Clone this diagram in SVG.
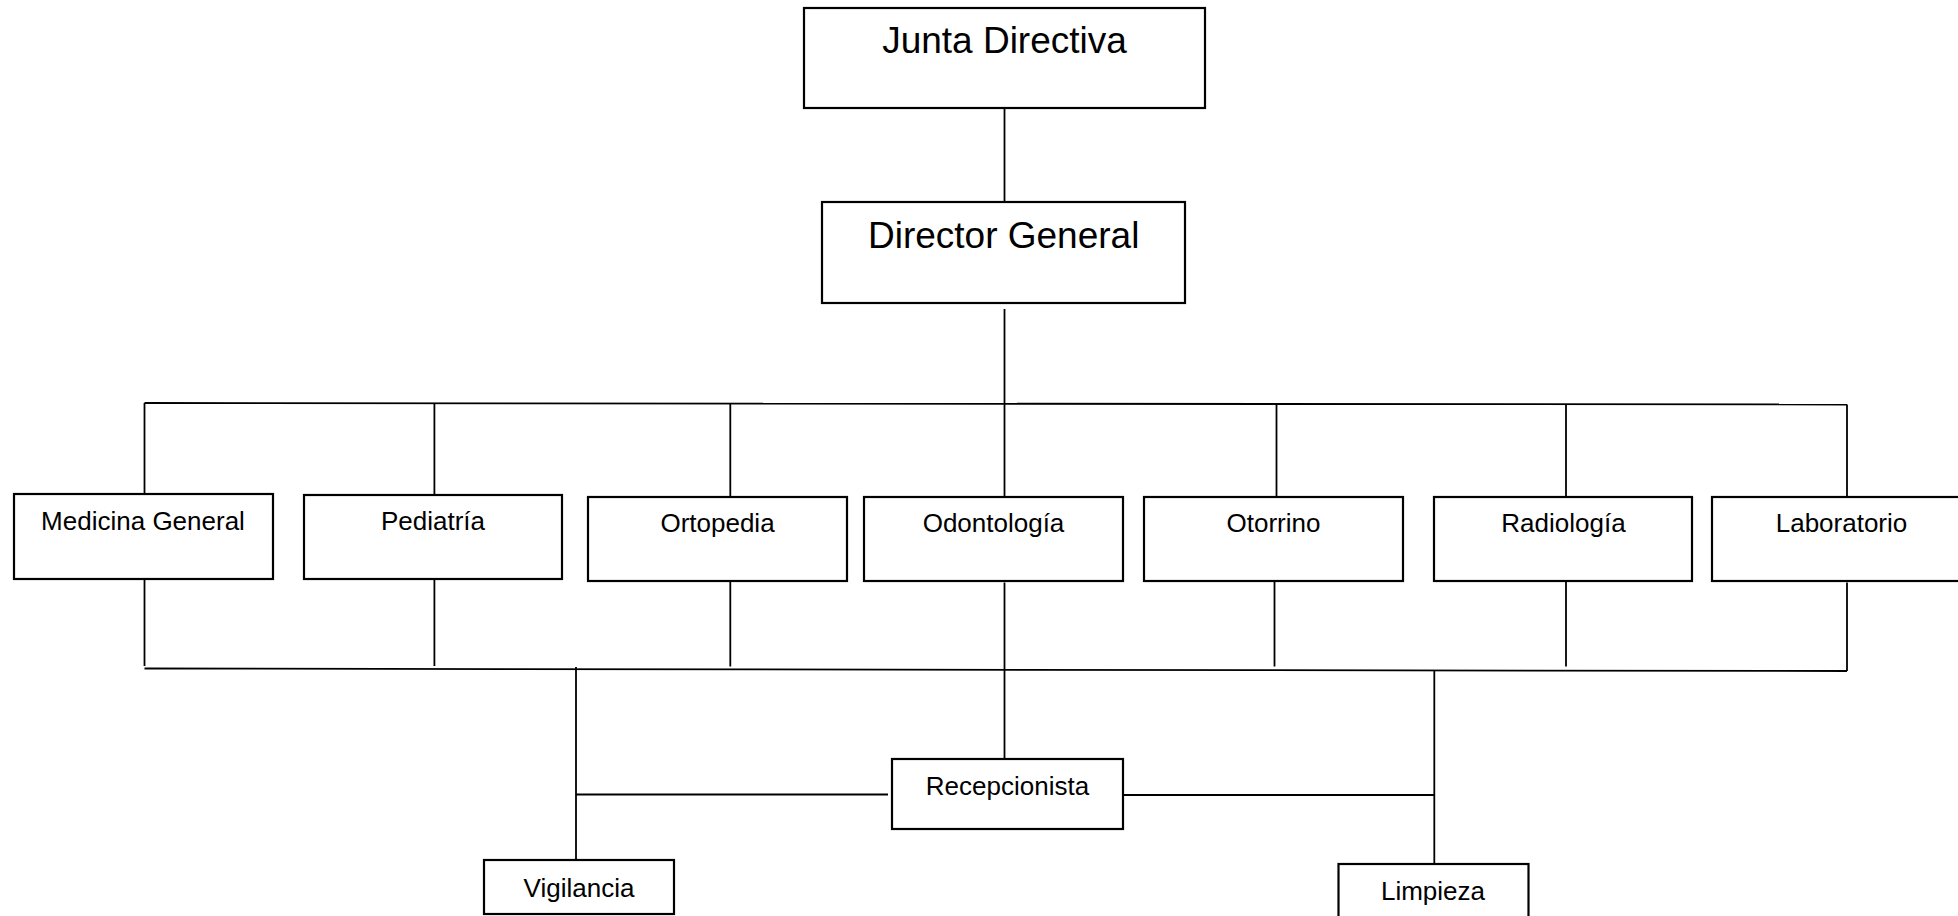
<svg xmlns="http://www.w3.org/2000/svg" width="1958" height="916" viewBox="0 0 1958 916">
  <style>
    .box { fill: #ffffff; stroke: #000000; stroke-width: 2.2; }
    .big { font-family: "Liberation Sans", Arial, sans-serif; font-size: 37px; fill: #000000; text-anchor: middle; }
    .lbl { font-family: "Liberation Sans", Arial, sans-serif; font-size: 26px; fill: #000000; text-anchor: middle; }
    #connectors line { stroke: #000000; stroke-width: 1.8; fill: none; }
  </style>
  <rect x="0" y="0" width="1958" height="916" fill="#ffffff"/>

  <!-- connectors -->
  <g id="connectors">
    <line x1="1004.5" y1="108" x2="1004.5" y2="202"/>
    <line x1="1004.5" y1="309" x2="1004.5" y2="497"/>
    <!-- upper bus -->
    <line x1="144.5" y1="403" x2="1847" y2="404.5"/>
    <line x1="144.5" y1="403" x2="144.5" y2="494"/>
    <line x1="434.4" y1="403" x2="434.4" y2="495"/>
    <line x1="730.3" y1="403.3" x2="730.3" y2="497"/>
    <line x1="1276.5" y1="404" x2="1276.5" y2="497"/>
    <line x1="1566" y1="404" x2="1566" y2="497"/>
    <line x1="1847" y1="404.5" x2="1847" y2="497"/>
    <!-- lower bus -->
    <line x1="144.5" y1="668.5" x2="1847" y2="671"/>
    <line x1="144.5" y1="579" x2="144.5" y2="666"/>
    <line x1="434.4" y1="579" x2="434.4" y2="666"/>
    <line x1="730.3" y1="581" x2="730.3" y2="666.5"/>
    <line x1="1004.5" y1="582.5" x2="1004.5" y2="759"/>
    <line x1="1274.5" y1="581" x2="1274.5" y2="666.5"/>
    <line x1="1566" y1="581" x2="1566" y2="666.5"/>
    <line x1="1847" y1="582.5" x2="1847" y2="671"/>
    <!-- support staff -->
    <line x1="576" y1="667" x2="576" y2="860"/>
    <line x1="1434.3" y1="670" x2="1434.3" y2="864"/>
    <line x1="576" y1="794.5" x2="888" y2="794.5"/>
    <line x1="1123" y1="795" x2="1434.3" y2="795"/>
  </g>

  <g id="junta">
    <rect class="box" x="804" y="8" width="401" height="100"/>
    <text class="big" x="1004.5" y="53">Junta Directiva</text>
  </g>
  <g id="director">
    <rect class="box" x="822" y="202" width="363" height="101"/>
    <text class="big" x="1003.7" y="248">Director General</text>
  </g>

  <g id="medicina">
    <rect class="box" x="14" y="494" width="259" height="85"/>
    <text class="lbl" x="143" y="530">Medicina General</text>
  </g>
  <g id="pediatria">
    <rect class="box" x="304" y="495" width="258" height="84"/>
    <text class="lbl" x="433" y="530">Pediatría</text>
  </g>
  <g id="ortopedia">
    <rect class="box" x="588" y="497" width="259" height="84"/>
    <text class="lbl" x="717.5" y="531.5">Ortopedia</text>
  </g>
  <g id="odontologia">
    <rect class="box" x="864" y="497" width="259" height="84"/>
    <text class="lbl" x="993.5" y="531.5">Odontología</text>
  </g>
  <g id="otorrino">
    <rect class="box" x="1144" y="497" width="259" height="84"/>
    <text class="lbl" x="1273.5" y="531.5">Otorrino</text>
  </g>
  <g id="radiologia">
    <rect class="box" x="1434" y="497" width="258" height="84"/>
    <text class="lbl" x="1563.5" y="531.5">Radiología</text>
  </g>
  <g id="laboratorio">
    <rect class="box" x="1712" y="497" width="259" height="84"/>
    <text class="lbl" x="1841.5" y="531.5">Laboratorio</text>
  </g>

  <g id="recepcionista">
    <rect class="box" x="892" y="759" width="231" height="70"/>
    <text class="lbl" x="1007.5" y="795">Recepcionista</text>
  </g>
  <g id="vigilancia">
    <rect class="box" x="484" y="860" width="190" height="54"/>
    <text class="lbl" x="579" y="896.5">Vigilancia</text>
  </g>
  <g id="limpieza">
    <rect class="box" x="1338.5" y="864" width="190" height="56"/>
    <text class="lbl" x="1433" y="900">Limpieza</text>
  </g>
</svg>
